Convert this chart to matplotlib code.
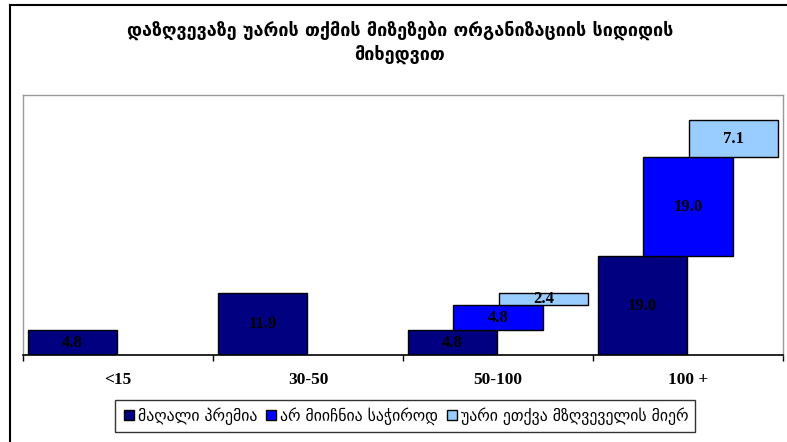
import numpy as np
import matplotlib.pyplot as plt
from matplotlib.lines import Line2D

# data
categories = ['<15', '30-50', '50-100', '100 +']
high_premium = [4.8, 11.9, 4.8, 19.0]
not_needed = [0, 0, 4.8, 19.0]
refused_by_insurer = [0, 0, 2.4, 7.1]
series_names = ['მაღალი პრემია', 'არ მიიჩნია საჭიროდ', 'უარი ეთქვა მზღვეველის მიერ']
colors = ['#000080', '#0000FF', '#99CCFF']
title = 'დაზღვევაზე უარის თქმის მიზეზები ორგანიზაციის სიდიდის\nმიხედვით'

fig = plt.figure(figsize=(7.87, 4.42), dpi=100)
ax = fig.add_axes([23/787, 1-355/442, 760/787, 260/442])

x = np.arange(len(categories))
w = 0.47
offsets = [-0.24, 0.0, 0.24]
bottom = np.zeros(len(categories))
for vals, off, col in zip([high_premium, not_needed, refused_by_insurer], offsets, colors):
    vals = np.array(vals)
    for i in range(len(categories)):
        if vals[i] <= 0:
            continue
        ax.bar(x[i] + off, vals[i], w, bottom=bottom[i], color=col,
               edgecolor='black', linewidth=1)
        ax.text(x[i] + off, bottom[i] + vals[i] / 2, '%.1f' % vals[i],
                ha='center', va='center', fontsize=12, fontweight='bold',
                family='Liberation Serif', color='black')
    bottom = bottom + vals

ax.set_xlim(-0.5, 3.5)
ax.set_ylim(0, 50)
ax.set_yticks([])
ax.set_xticks(x)
ax.set_xticklabels(categories, fontsize=12.5, fontweight='bold', family='Liberation Serif')
ax.tick_params(axis='x', which='major', length=0, pad=12)
ax.set_xticks(np.arange(-0.5, 4, 1), minor=True)
ax.tick_params(axis='x', which='minor', length=4, width=1, color='black')
for s in ['left', 'top', 'right']:
    ax.spines[s].set_color('#999999')
    ax.spines[s].set_linewidth(1)
ax.spines['bottom'].set_color('black')
ax.spines['bottom'].set_linewidth(1.2)

fig.text(0.508, 1-43/442, title, ha='center', va='center', fontsize=13,
         fontweight='bold', linespacing=1.4)

handles = [Line2D([], [], marker='s', linestyle='none', markersize=7,
                  markerfacecolor=c, markeredgecolor='black') for c in colors]
fig.legend(handles, series_names, loc='center', bbox_to_anchor=(405/787, 1-416/442),
           ncol=3, frameon=True, fancybox=False, edgecolor='black', fontsize=11.3,
           handletextpad=0.15, columnspacing=0.4, handlelength=0.9,
           borderpad=0.45, borderaxespad=0)

# outer chart frame
fig.add_artist(Line2D([10/787, 10/787], [0, 1-5/442], color='black', lw=1.5,
                      transform=fig.transFigure))
fig.add_artist(Line2D([10/787, 1], [1-5/442, 1-5/442], color='black', lw=1.5,
                      transform=fig.transFigure))

fig.savefig('out.png', dpi=100)
